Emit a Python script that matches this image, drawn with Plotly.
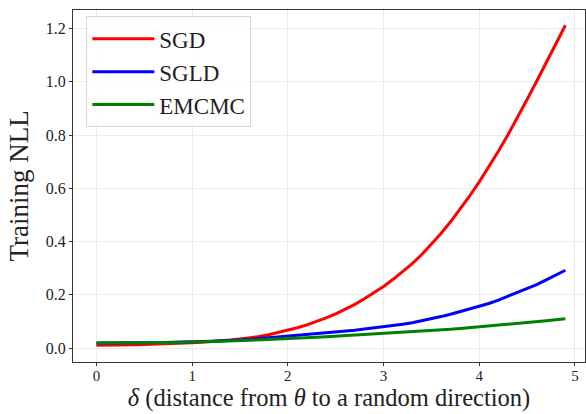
import plotly.graph_objects as go

# Perturbation distance along a random direction
delta = [round(0.1 * i, 1) for i in range(50)]

# Training NLL for each sampler
sgd = [0.010, 0.010, 0.011, 0.011, 0.012, 0.013, 0.014, 0.015, 0.017, 0.018,
       0.020, 0.022, 0.024, 0.027, 0.030, 0.034, 0.038, 0.043, 0.050, 0.058,
       0.067, 0.076, 0.087, 0.099, 0.113, 0.128, 0.145, 0.164, 0.185, 0.207,
       0.231, 0.258, 0.286, 0.317, 0.351, 0.389, 0.430, 0.474, 0.521, 0.571,
       0.624, 0.680, 0.739, 0.801, 0.866, 0.933, 1.002, 1.072, 1.142, 1.212]
sgld = [0.019, 0.019, 0.019, 0.020, 0.020, 0.020, 0.021, 0.021, 0.022, 0.022,
        0.023, 0.024, 0.025, 0.026, 0.028, 0.030, 0.032, 0.035, 0.038, 0.042,
        0.046, 0.048, 0.051, 0.054, 0.057, 0.060, 0.064, 0.067, 0.071, 0.075,
        0.079, 0.084, 0.089, 0.095, 0.102, 0.110, 0.118, 0.127, 0.137, 0.147,
        0.158, 0.167, 0.180, 0.194, 0.209, 0.222, 0.238, 0.256, 0.275, 0.292]
emcmc = [0.019, 0.019, 0.019, 0.020, 0.020, 0.020, 0.021, 0.021, 0.021, 0.022,
         0.022, 0.023, 0.024, 0.025, 0.026, 0.027, 0.029, 0.030, 0.032, 0.034,
         0.035, 0.037, 0.038, 0.040, 0.042, 0.044, 0.046, 0.048, 0.050, 0.052,
         0.054, 0.056, 0.058, 0.061, 0.063, 0.065, 0.068, 0.070, 0.073, 0.076,
         0.079, 0.082, 0.085, 0.088, 0.091, 0.094, 0.098, 0.102, 0.106, 0.110]

series = [("SGD", sgd, "#ff0000"), ("SGLD", sgld, "#0000ff"), ("EMCMC", emcmc, "#008000")]

x_ticks = [0, 1, 2, 3, 4, 5]
y_ticks = [0.0, 0.2, 0.4, 0.6, 0.8, 1.0, 1.2]

SERIF = "Liberation Serif"

fig = go.Figure()
for i, (name, vals, color) in enumerate(series):
    fig.add_trace(go.Scatter(
        x=delta, y=vals, mode="lines", name=name,
        line=dict(color=color, width=3), legendgroup=str(i),
    ))

frame = dict(
    showline=True, mirror=True, linecolor="#333333", linewidth=1.3,
    ticks="outside", ticklen=3, tickcolor="#333333", tickwidth=1,
    showgrid=True, gridcolor="#ebebeb", gridwidth=1, zeroline=False,
)

fig.update_layout(
    width=586, height=414,
    margin=dict(l=73, r=1, t=10, b=52),
    paper_bgcolor="white", plot_bgcolor="white",
    font=dict(family=SERIF, color="#222222"),
    xaxis=dict(
        range=[-0.245, 5.105], tickvals=x_ticks,
        tickfont=dict(family=SERIF, size=15, color="#222222"),
        ticklabelstandoff=-3,
        title=dict(
            text='<i>δ</i> (distance from <i>θ</i> to a random direction)',
            font=dict(family=SERIF, size=24.5), standoff=3),
        **frame,
    ),
    yaxis=dict(
        range=[-0.0526, 1.2695], tickvals=y_ticks, tickformat=".1f",
        tickfont=dict(family=SERIF, size=16, color="#222222"),
        title=dict(text="Training NLL", font=dict(family=SERIF, size=27), standoff=9),
        **frame,
    ),
    legend=dict(
        x=0.026, y=0.982, xanchor="left", yanchor="top",
        bgcolor="rgba(255,255,255,0.85)", bordercolor="#d6d6d6", borderwidth=1,
        font=dict(family=SERIF, size=23, color="#222222"),
        tracegroupgap=0, itemwidth=62,
    ),
    showlegend=True,
)

fig.write_html("out.html")
